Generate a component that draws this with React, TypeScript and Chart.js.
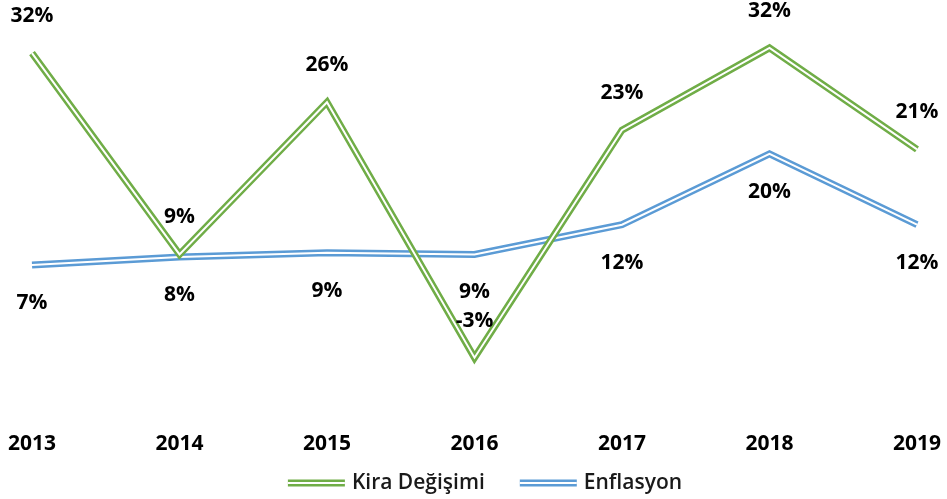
import React, { useEffect, useRef } from "react";
import { Chart, registerables } from "chart.js";

Chart.register(...registerables);

const years = ["2013", "2014", "2015", "2016", "2017", "2018", "2019"];
const kiraValues = [31.6, 8.6, 26.0, -3.2, 22.8, 32.2, 20.6];
const enflasyonValues = [7.4, 8.3, 8.8, 8.6, 12.0, 20.1, 12.0];
const kiraLabels = ["32%", "9%", "26%", "-3%", "23%", "32%", "21%"];
const enflasyonLabels = ["7%", "8%", "9%", "9%", "12%", "20%", "12%"];
const seriesNames = ["Kira Değişimi", "Enflasyon"];

const GREEN = "#70AD47";
const BLUE = "#5B9BD5";
const LABEL_FONT = "bold 21px 'Open Sans'";
const LEGEND_FONT = "600 21px 'Open Sans'";

const labelsPlugin = {
  id: "valueLabels",
  afterDatasetsDraw(chart: any) {
    const ctx = chart.ctx;
    ctx.save();
    ctx.font = LABEL_FONT;
    ctx.fillStyle = "#000";
    ctx.textAlign = "center";
    ctx.textBaseline = "middle";
    chart.data.datasets.forEach((ds: any, i: number) => {
      if (!ds.valueLabels) return;
      const meta = chart.getDatasetMeta(i);
      meta.data.forEach((pt: any, j: number) => {
        ctx.fillText(ds.valueLabels[j], pt.x, pt.y + ds.labelOffset);
      });
    });
    ctx.restore();
  },
};

const legendPlugin = {
  id: "doubleLegend",
  afterDraw(chart: any) {
    const ctx = chart.ctx;
    ctx.save();
    ctx.font = LEGEND_FONT;
    const colors = [GREEN, BLUE];
    const sample = 57;
    const gapText = 7;
    const gapItem = 35;
    const widths = seriesNames.map((n) => ctx.measureText(n).width);
    const total = widths.reduce((a, w) => a + sample + gapText + w, 0) + gapItem * (seriesNames.length - 1);
    let x = 485 - total / 2;
    const y = 483;
    seriesNames.forEach((name, i) => {
      ctx.lineCap = "butt";
      ctx.strokeStyle = colors[i];
      ctx.lineWidth = 7;
      ctx.beginPath();
      ctx.moveTo(x, y);
      ctx.lineTo(x + sample, y);
      ctx.stroke();
      ctx.strokeStyle = "#fff";
      ctx.lineWidth = 2;
      ctx.beginPath();
      ctx.moveTo(x, y);
      ctx.lineTo(x + sample, y);
      ctx.stroke();
      ctx.fillStyle = "#1a1a1a";
      ctx.textAlign = "left";
      ctx.textBaseline = "middle";
      ctx.fillText(name, x + sample + gapText, y);
      x += sample + gapText + widths[i] + gapItem;
    });
    ctx.restore();
  },
};

export default function App() {
  const ref = useRef<HTMLCanvasElement>(null);
  useEffect(() => {
    if (!ref.current) return;
    const common = {
      pointRadius: 0,
      pointHoverRadius: 0,
      tension: 0,
      fill: false,
      borderJoinStyle: "miter" as const,
      borderCapStyle: "butt" as const,
    };
    const chart = new Chart(ref.current, {
      type: "line",
      data: {
        labels: years,
        datasets: [
          { ...common, label: seriesNames[0] + " inner", data: kiraValues, borderColor: "#fff", borderWidth: 2, order: 1 },
          {
            ...common,
            label: seriesNames[0],
            data: kiraValues,
            borderColor: GREEN,
            borderWidth: 7,
            order: 2,
            valueLabels: kiraLabels,
            labelOffset: -37,
          } as any,
          { ...common, label: seriesNames[1] + " inner", data: enflasyonValues, borderColor: "#fff", borderWidth: 2, order: 3 },
          {
            ...common,
            label: seriesNames[1],
            data: enflasyonValues,
            borderColor: BLUE,
            borderWidth: 7,
            order: 4,
            valueLabels: enflasyonLabels,
            labelOffset: 38,
          } as any,
        ],
      },
      options: {
        responsive: false,
        animation: false,
        events: [],
        layout: { padding: { left: 32, right: 22, top: 30, bottom: 36 } },
        plugins: {
          legend: { display: false },
          tooltip: { enabled: false },
          title: { display: false },
        },
        scales: {
          x: {
            offset: false,
            grid: { display: false },
            border: { display: false },
            ticks: {
              padding: 6,
              color: "#000",
              font: { family: "'Open Sans'", size: 21, weight: "bold" },
              maxRotation: 0,
              autoSkip: false,
            },
          },
          y: {
            display: false,
            min: -10.07,
            max: 34.25,
          },
        },
      },
      plugins: [labelsPlugin, legendPlugin],
    });
    return () => chart.destroy();
  }, []);
  return (
    <div style={{ position: "absolute", left: 0, top: 0, width: 947, height: 499, background: "#fff" }}>
      <canvas ref={ref} width={947} height={499} style={{ width: 947, height: 499, display: "block" }} />
    </div>
  );
}
